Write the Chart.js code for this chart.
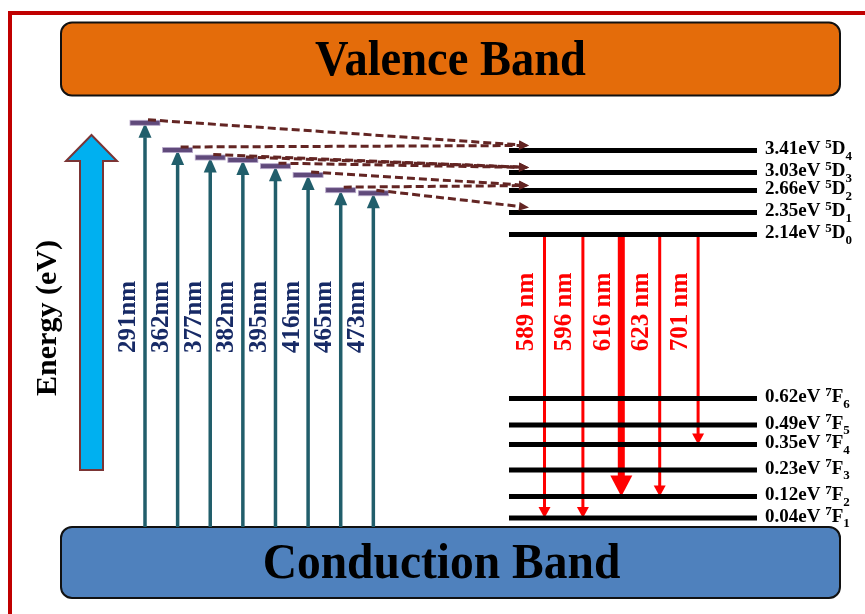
<!DOCTYPE html>
<html>
<head>
<meta charset="utf-8">
<title>Energy level diagram</title>
<script src="https://cdn.jsdelivr.net/npm/chart.js@4.4.1/dist/chart.umd.min.js"></script>
<style>
  html, body { margin: 0; padding: 0; background: #ffffff; overflow: hidden; }
  #frame { position: relative; width: 865px; height: 614px; }
</style>
</head>
<body>
<div id="frame"><canvas id="diagram"></canvas></div>
<script>
// ---------- data ----------
const levelEnergy       = [3.41, 3.03, 2.66, 2.35, 2.14, 0.62, 0.49, 0.35, 0.23, 0.12, 0.04];
const levelMultiplicity = [5, 5, 5, 5, 5, 7, 7, 7, 7, 7, 7];
const levelTermLetter   = ['D', 'D', 'D', 'D', 'D', 'F', 'F', 'F', 'F', 'F', 'F'];
const levelJ            = [4, 3, 2, 1, 0, 6, 5, 4, 3, 2, 1];

const excitationNm      = [291, 362, 377, 382, 395, 416, 465, 473];
const relaxesTo         = ['5D4', '5D4', '5D3', '5D3', '5D3', '5D2', '5D2', '5D1'];

const emissionNm        = [589, 596, 616, 623, 701];
const emissionFrom      = '5D0';
const emissionTo        = ['7F1', '7F1', '7F2', '7F2', '7F4'];
const strongestEmissionNm = 616;

const bandNames = ['Valence Band', 'Conduction Band'];
const bandEdgeEV = 0;          // top edge of the lower band
const axisTitle = 'Energy (eV)';

// ---------- helpers ----------
const W = 865, H = 614;
const SERIF = '"Liberation Serif", "Times New Roman", serif';
const HC_EV_NM = 1239.84;
const photonEV = nm => HC_EV_NM / nm;
const levelKey = i => `${levelMultiplicity[i]}${levelTermLetter[i]}${levelJ[i]}`;
const energyOf = key => levelEnergy[levelEnergy.findIndex((_, i) => levelKey(i) === key)];

// layout (design px)
const LAYOUT = {
  levelX: [509, 757],
  levelLabelX: 765,
  excX0: 145, excStep: 32.62,
  emX0: 544.5, emStep: 38.4,
  excLabelDx: -16, excLabelY: 317,
  emLabelDx: -18, emLabelY: 312,
  relaxTipX: 529,
  bandX: 61, bandW: 779,
  valenceTop: 22.5, valenceH: 73,
  conductionH: 71
};

const COLORS = {
  frame: '#C00000',
  valence: '#E46C0A',
  conduction: '#4F81BD',
  energyArrow: '#00B0F0',
  energyArrowEdge: '#7B3535',
  excitation: '#215E6B',
  excLabel: '#172A66',
  state: '#604A7B',
  stateEdge: '#B9AACB',
  relax: '#632523',
  emission: '#FF0000',
  level: '#000000'
};

// ---------- schematic (not-to-scale) energy axis ----------
class SchematicEnergyScale extends Chart.LinearScale {
  static id = 'schematicEnergy';
  static defaults = {};
  _design(v) {
    const b = this.options.breaks;
    const n = b.length;
    let k = 0;
    if (v <= b[n - 1][0]) k = n - 2;
    else if (v < b[0][0]) { while (k < n - 2 && v < b[k + 1][0]) k++; }
    const [v0, p0] = b[k], [v1, p1] = b[k + 1];
    return p0 + (v - v0) * (p1 - p0) / (v1 - v0);
  }
  getPixelForValue(value) {
    return this.top + this._design(+value) * (this.bottom - this.top) / this.options.designHeight;
  }
  getValueForPixel(pixel) {
    const d = (pixel - this.top) * this.options.designHeight / (this.bottom - this.top);
    const b = this.options.breaks;
    const n = b.length;
    let k = 0;
    if (d >= b[n - 1][1]) k = n - 2;
    else if (d > b[0][1]) { while (k < n - 2 && d > b[k + 1][1]) k++; }
    const [v0, p0] = b[k], [v1, p1] = b[k + 1];
    return v0 + (d - p0) * (v1 - v0) / (p1 - p0);
  }
}
Chart.register(SchematicEnergyScale);

// index axis whose integer positions start at x0 and advance by step
const indexAxis = (x0, step) => ({
  type: 'linear', display: false, min: -x0 / step, max: (W - x0) / step
});

// ---------- datasets ----------
const levelSets = levelEnergy.map((e, i) => ({
  label: levelKey(i),
  xAxisID: 'x', yAxisID: 'y',
  data: [{ x: LAYOUT.levelX[0], y: e }, { x: LAYOUT.levelX[1], y: e }],
  borderColor: COLORS.level, borderWidth: 5, borderCapStyle: 'butt'
}));

const emissionSets = emissionNm.map((nm, i) => {
  const strong = nm === strongestEmissionNm;
  return {
    label: `${nm} nm`,
    xAxisID: 'xEm', yAxisID: 'y',
    data: [{ x: i, y: energyOf(emissionFrom) }, { x: i, y: energyOf(emissionTo[i]) }],
    borderColor: COLORS.emission, borderWidth: strong ? 7 : 3, borderCapStyle: 'butt',
    arrowHead: strong ? { len: 21, half: 11 } : { len: 11, half: 6 }
  };
});

const excitationSets = excitationNm.map((nm, i) => ({
  label: `${nm}nm`,
  xAxisID: 'xExc', yAxisID: 'y',
  data: [{ x: i, y: bandEdgeEV }, { x: i, y: photonEV(nm) }],
  borderColor: COLORS.excitation, borderWidth: 3.5, borderCapStyle: 'butt',
  arrowHead: { len: 15, half: 6.5 }
}));

// ---------- drawing helpers ----------
function drawBand(ctx, x, y, w, h, fill, text, dx, dy, squeeze) {
  ctx.save();
  ctx.beginPath();
  ctx.roundRect(x, y, w, h, 11);
  ctx.fillStyle = fill;
  ctx.fill();
  ctx.lineWidth = 2;
  ctx.strokeStyle = '#111111';
  ctx.stroke();
  ctx.fillStyle = '#000000';
  ctx.font = `bold 50px ${SERIF}`;
  ctx.textAlign = 'center';
  ctx.textBaseline = 'middle';
  ctx.translate(x + w / 2 + dx, y + h / 2 + dy);
  ctx.scale(squeeze, 1);
  ctx.fillText(text, 0, 0);
  ctx.restore();
}

function vText(ctx, text, x, y, font, color) {
  ctx.save();
  ctx.translate(x, y);
  ctx.rotate(-Math.PI / 2);
  ctx.font = font;
  ctx.fillStyle = color;
  ctx.textAlign = 'center';
  ctx.textBaseline = 'middle';
  ctx.fillText(text, 0, 0);
  ctx.restore();
}

function termLabel(ctx, x, y, i) {
  ctx.save();
  ctx.fillStyle = '#000000';
  ctx.textAlign = 'left';
  ctx.textBaseline = 'middle';
  const big = `bold 19px ${SERIF}`, small = `bold 13px ${SERIF}`;
  const head = `${levelEnergy[i].toFixed(2)}eV `;
  ctx.font = big; ctx.fillText(head, x, y); x += ctx.measureText(head).width;
  ctx.font = small; ctx.fillText(String(levelMultiplicity[i]), x, y - 5); x += ctx.measureText(String(levelMultiplicity[i])).width;
  ctx.font = big; ctx.fillText(levelTermLetter[i], x, y); x += ctx.measureText(levelTermLetter[i]).width;
  ctx.font = small; ctx.fillText(String(levelJ[i]), x, y + 7);
  ctx.restore();
}

function arrowHead(ctx, tx, ty, ux, uy, len, half, color) {
  const bx = tx - ux * len, by = ty - uy * len;
  ctx.beginPath();
  ctx.moveTo(tx, ty);
  ctx.lineTo(bx - uy * half, by + ux * half);
  ctx.lineTo(bx + uy * half, by - ux * half);
  ctx.closePath();
  ctx.fillStyle = color;
  ctx.fill();
}

function tipGeometry(chart, index) {
  const pts = chart.getDatasetMeta(index).data;
  const a = pts[0], b = pts[pts.length - 1];
  const dx = b.x - a.x, dy = b.y - a.y, L = Math.hypot(dx, dy) || 1;
  return { tx: b.x, ty: b.y, ux: dx / L, uy: dy / L };
}

// ---------- plugin: frame, bands, arrow heads, states, text ----------
const diagramPlugin = {
  id: 'levelDiagram',
  beforeDatasetsDraw(chart) {
    const { ctx, scales } = chart;
    const X = v => scales.x.getPixelForValue(v);
    ctx.save();
    // page frame
    ctx.fillStyle = COLORS.frame;
    ctx.fillRect(X(8), 11, W - 8, 4);
    ctx.fillRect(X(8), 11, 4, H - 11);

    // bands
    drawBand(ctx, X(LAYOUT.bandX), LAYOUT.valenceTop, LAYOUT.bandW, LAYOUT.valenceH,
             COLORS.valence, bandNames[0], 0, 3, 0.93);
    const cbTop = scales.y.getPixelForValue(bandEdgeEV);
    drawBand(ctx, X(LAYOUT.bandX), cbTop, LAYOUT.bandW, LAYOUT.conductionH,
             COLORS.conduction, bandNames[1], -9, 3, 0.95);

    // energy direction arrow
    ctx.beginPath();
    ctx.moveTo(91.5, 135);
    ctx.lineTo(117, 161);
    ctx.lineTo(103, 161);
    ctx.lineTo(103, 470);
    ctx.lineTo(80, 470);
    ctx.lineTo(80, 161);
    ctx.lineTo(66, 161);
    ctx.closePath();
    ctx.fillStyle = COLORS.energyArrow;
    ctx.fill();
    ctx.lineWidth = 2;
    ctx.strokeStyle = COLORS.energyArrowEdge;
    ctx.stroke();
    vText(ctx, axisTitle, 48, 318, `bold 30px ${SERIF}`, '#000000');
    ctx.restore();
  },
  beforeDatasetDraw(chart, args) {
    const ds = chart.data.datasets[args.index];
    if (!ds.arrowHead) return;
    const { ctx } = chart;
    const g = tipGeometry(chart, args.index);
    const by = g.ty - g.uy * (ds.arrowHead.len - 0.5);
    ctx.save();
    ctx.beginPath();
    if (g.uy > 0) ctx.rect(0, 0, W, by); else ctx.rect(0, by, W, H - by);
    ctx.clip();
  },
  afterDatasetDraw(chart, args) {
    const ds = chart.data.datasets[args.index];
    if (!ds.arrowHead) return;
    const { ctx } = chart;
    ctx.restore();
    const g = tipGeometry(chart, args.index);
    arrowHead(ctx, g.tx, g.ty, g.ux, g.uy, ds.arrowHead.len, ds.arrowHead.half, ds.borderColor);
  },
  afterDatasetsDraw(chart) {
    const { ctx, scales } = chart;
    const y = scales.y, xExc = scales.xExc, xEm = scales.xEm, x = scales.x;
    ctx.save();

    // excited states reached by each excitation wavelength
    excitationNm.forEach((nm, i) => {
      const cx = xExc.getPixelForValue(i), cy = y.getPixelForValue(photonEV(nm));
      ctx.fillStyle = COLORS.state;
      ctx.fillRect(cx - 15, cy - 2.5, 30, 5);
      ctx.lineWidth = 0.8;
      ctx.strokeStyle = COLORS.stateEdge;
      ctx.strokeRect(cx - 15, cy - 2.5, 30, 5);
    });

    // non-radiative relaxation to the 5D levels
    excitationNm.forEach((nm, i) => {
      const sx = xExc.getPixelForValue(i) + 3, sy = y.getPixelForValue(photonEV(nm)) - 3;
      const tx = x.getPixelForValue(LAYOUT.relaxTipX), ty = y.getPixelForValue(energyOf(relaxesTo[i])) - 5;
      const dx = tx - sx, dy = ty - sy, L = Math.hypot(dx, dy);
      const ux = dx / L, uy = dy / L, headLen = 10;
      ctx.beginPath();
      ctx.setLineDash([8, 4]);
      ctx.lineWidth = 3;
      ctx.strokeStyle = COLORS.relax;
      ctx.moveTo(sx, sy);
      ctx.lineTo(tx - ux * headLen, ty - uy * headLen);
      ctx.stroke();
      ctx.setLineDash([]);
      arrowHead(ctx, tx, ty, ux, uy, headLen, 4.5, COLORS.relax);
    });

    // wavelength labels
    excitationNm.forEach((nm, i) => {
      vText(ctx, `${nm}nm`, xExc.getPixelForValue(i) + LAYOUT.excLabelDx, LAYOUT.excLabelY,
            `bold 25px ${SERIF}`, COLORS.excLabel);
    });
    emissionNm.forEach((nm, i) => {
      vText(ctx, `${nm} nm`, xEm.getPixelForValue(i) + LAYOUT.emLabelDx, LAYOUT.emLabelY,
            `bold 25px ${SERIF}`, COLORS.emission);
    });

    // level labels
    levelEnergy.forEach((e, i) => {
      termLabel(ctx, x.getPixelForValue(LAYOUT.levelLabelX), y.getPixelForValue(e) - 1, i);
    });
    ctx.restore();
  }
};

// ---------- chart ----------
new Chart(document.getElementById('diagram'), {
  type: 'line',
  data: { datasets: [...levelSets, ...emissionSets, ...excitationSets] },
  options: {
    responsive: true,
    maintainAspectRatio: false,
    animation: false,
    events: [],
    layout: { padding: 0 },
    elements: { point: { radius: 0 }, line: { tension: 0 } },
    datasets: { line: { clip: false, fill: false, pointRadius: 0 } },
    plugins: { legend: { display: false }, tooltip: { enabled: false } },
    scales: {
      x: { type: 'linear', display: false, min: 0, max: W },
      xExc: indexAxis(LAYOUT.excX0, LAYOUT.excStep),
      xEm: indexAxis(LAYOUT.emX0, LAYOUT.emStep),
      y: {
        type: 'schematicEnergy', display: false, min: -3, max: 6,
        designHeight: H,
        // eV -> vertical design position; the level scheme is drawn not to scale
        breaks: [[4.5, 115], [3.41, 150.5], [3.03, 172.5], [2.66, 190.5], [2.35, 212.5], [2.14, 234.5],
                 [0.62, 398.5], [0.49, 425], [0.35, 444.5], [0.23, 470], [0.12, 496.5], [0.04, 518], [0, 527]]
      }
    }
  },
  plugins: [diagramPlugin]
});
</script>
</body>
</html>
